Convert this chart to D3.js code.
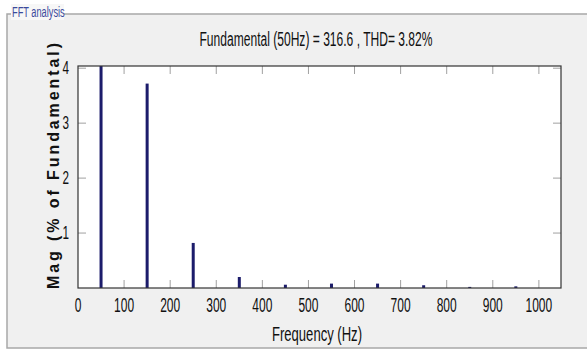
<!DOCTYPE html>
<html>
<head>
<meta charset="utf-8">
<script src="https://cdn.jsdelivr.net/npm/d3@7"></script>
<style>
  body { margin: 0; background: #fff; }
  svg { display: block; }
</style>
</head>
<body>
<div id="chart"></div>
<script>
// harmonic spectrum (% of fundamental)
const freqs = [50, 150, 250, 350, 450, 550, 650, 750, 850, 950];
const mags = [100, 3.72, 0.82, 0.2, 0.06, 0.08, 0.08, 0.05, 0.02, 0.03];
const xTicks = [0, 100, 200, 300, 400, 500, 600, 700, 800, 900, 1000];
const yTicks = [1, 2, 3, 4];
const titleText = "Fundamental (50Hz) = 316.6 , THD= 3.82%";

const width = 587, height = 350;
const margin = { top: 66, right: 26, bottom: 62, left: 78 };
const font = "'Liberation Sans', Arial, sans-serif";

const svg = d3.select("#chart").append("svg")
  .attr("width", width)
  .attr("height", height);

// squeeze text horizontally to mimic the condensed MATLAB font
function squeeze(sel, k) {
  sel.each(function () {
    const len = this.getComputedTextLength();
    d3.select(this).attr("textLength", len * k).attr("lengthAdjust", "spacingAndGlyphs");
  });
}

// panel background + group box
svg.append("rect").attr("width", width).attr("height", height).attr("fill", "#ffffff");
svg.append("rect").attr("x", 7).attr("y", 14).attr("width", width).attr("height", 334)
  .attr("fill", "#f0f0f0").attr("stroke", "#a8a8a8").attr("stroke-width", 1.5);
svg.append("rect").attr("x", 11).attr("y", 4).attr("width", 53).attr("height", 16).attr("fill", "#f7f7f7");
svg.append("text").attr("x", 12).attr("y", 17)
  .style("font-family", font).style("font-size", "14px").style("fill", "#3b4a9c")
  .text("FFT analysis")
  .call(squeeze, 0.66);

const w = width - margin.left - margin.right;
const h = height - margin.top - margin.bottom;
const g = svg.append("g").attr("transform", `translate(${margin.left},${margin.top})`);

const x = d3.scaleLinear().domain([0, 1048]).range([0, w]);
const y = d3.scaleLinear().domain([0, 4.04]).range([h, 0]);

g.append("rect").attr("width", w).attr("height", h).attr("fill", "#fff");

// inward ticks on all four sides
const tl = 8;
g.selectAll(".xt-b").data(xTicks.slice(1)).enter().append("line")
  .attr("x1", d => x(d)).attr("x2", d => x(d)).attr("y1", h).attr("y2", h - tl)
  .attr("stroke", "#a0a0a0").attr("stroke-width", 1);
g.selectAll(".xt-t").data(xTicks.slice(1)).enter().append("line")
  .attr("x1", d => x(d)).attr("x2", d => x(d)).attr("y1", 0).attr("y2", tl)
  .attr("stroke", "#a0a0a0").attr("stroke-width", 1);
g.selectAll(".yt-l").data(yTicks).enter().append("line")
  .attr("x1", 0).attr("x2", tl).attr("y1", d => y(d)).attr("y2", d => y(d))
  .attr("stroke", "#a0a0a0").attr("stroke-width", 1);
g.selectAll(".yt-r").data(yTicks).enter().append("line")
  .attr("x1", w).attr("x2", w - tl).attr("y1", d => y(d)).attr("y2", d => y(d))
  .attr("stroke", "#a0a0a0").attr("stroke-width", 1);

// bars (clipped to axes)
g.append("clipPath").attr("id", "clip").append("rect").attr("width", w).attr("height", h);
g.append("g").attr("clip-path", "url(#clip)")
  .selectAll(".bar").data(freqs).enter().append("rect")
  .attr("x", d => x(d) - 1.5)
  .attr("width", 3)
  .attr("y", (d, i) => y(mags[i]))
  .attr("height", (d, i) => h - y(mags[i]))
  .attr("fill", "#1c1c6b");

// axes box
g.append("rect").attr("width", w).attr("height", h)
  .attr("fill", "none").attr("stroke", "#333").attr("stroke-width", 1.2);

// tick labels
g.selectAll(".xl").data(xTicks).enter().append("text")
  .attr("x", d => x(d)).attr("y", h + 24)
  .attr("text-anchor", "middle")
  .style("font-family", font).style("font-size", "20px").style("fill", "#111")
  .text(d => d)
  .call(squeeze, 0.6);
g.selectAll(".yl").data(yTicks).enter().append("text")
  .attr("x", -9).attr("y", d => y(d) + 6)
  .attr("text-anchor", "end")
  .style("font-family", font).style("font-size", "18px").style("fill", "#111")
  .text(d => d)
  .call(squeeze, 0.65);

// title and labels
svg.append("text").attr("x", 316).attr("y", 46)
  .attr("text-anchor", "middle")
  .style("font-family", font).style("font-size", "20px").style("fill", "#111")
  .text(titleText)
  .call(function (s) { s.attr("textLength", 233).attr("lengthAdjust", "spacingAndGlyphs"); });
svg.append("text").attr("x", 317).attr("y", 341)
  .attr("text-anchor", "middle")
  .style("font-family", font).style("font-size", "20px").style("fill", "#111")
  .text("Frequency (Hz)")
  .call(function (s) { s.attr("textLength", 90).attr("lengthAdjust", "spacingAndGlyphs"); });
svg.append("text")
  .attr("transform", "translate(59,166) rotate(-90)")
  .attr("text-anchor", "middle")
  .style("font-family", font)
  .style("font-size", "16px").style("font-weight", "bold")
  .style("fill", "#111")
  .text("Mag (% of Fundamental)")
  .call(function (s) { s.attr("textLength", 246).attr("lengthAdjust", "spacing"); });
</script>
</body>
</html>
